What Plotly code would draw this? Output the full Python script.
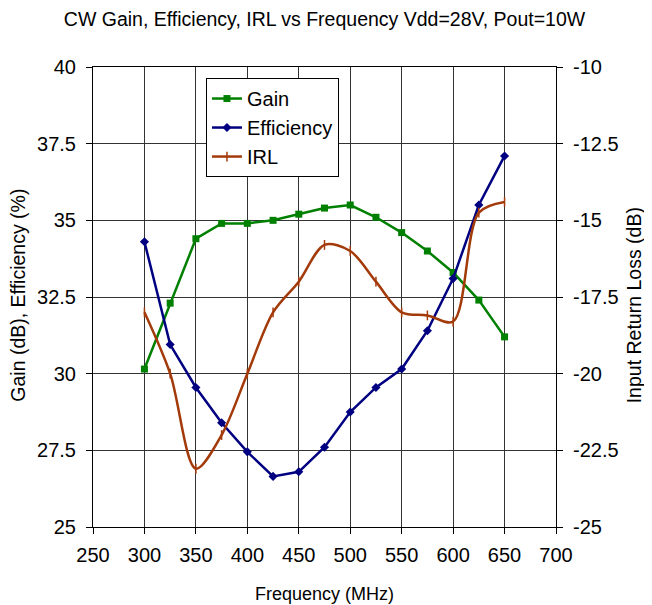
import plotly.graph_objects as go

freq = [300, 325, 350, 375, 400, 425, 450, 475, 500, 525, 550, 575, 600, 625, 650]
gain = [30.15, 32.3, 34.4, 34.9, 34.9, 35.0, 35.2, 35.4, 35.5, 35.1, 34.6, 34.0, 33.3, 32.4, 31.2]
efficiency = [34.3, 30.95, 29.55, 28.4, 27.45, 26.65, 26.8, 27.6, 28.75, 29.55, 30.15, 31.4, 33.1, 35.5, 37.1]
irl = [-18.0, -20.0, -23.1, -22.0, -20.0, -18.0, -17.0, -15.8, -16.0, -17.0, -18.0, -18.1, -18.3, -14.75, -14.4]

left_ticks = [25, 27.5, 30, 32.5, 35, 37.5, 40]
right_ticks = [-25, -22.5, -20, -17.5, -15, -12.5, -10]
right_labels = ["-25", "-22.5", "-20", "-17.5", "-15", "-12.5", "-10"]
x_ticks = [250, 300, 350, 400, 450, 500, 550, 600, 650, 700]

FONT = "Liberation Sans, Arial, sans-serif"
GRID = "#333333"

fig = go.Figure()
fig.add_trace(go.Scatter(x=freq, y=gain, name="Gain", mode="lines+markers",
                         line=dict(color="#008000", width=2.5),
                         marker=dict(symbol="square", size=7, color="#008000")))
fig.add_trace(go.Scatter(x=freq, y=efficiency, name="Efficiency", mode="lines+markers",
                         line=dict(color="#000080", width=2.5),
                         marker=dict(symbol="diamond", size=7, color="#000080")))
fig.add_trace(go.Scatter(x=freq, y=irl, name="IRL", mode="lines+markers", yaxis="y2",
                         line=dict(color="#A33A0A", width=2.5, shape="spline", smoothing=0.9),
                         marker=dict(symbol="line-ns-open", size=7, color="#A33A0A",
                                     line=dict(color="#A33A0A", width=1.5))))

# Page has an 8px body margin; figure is sized so it fits the 652x605 window.
fig.update_layout(
    width=644, height=597,
    margin=dict(l=85, r=96, t=59, b=78),
    paper_bgcolor="white", plot_bgcolor="white",
    font=dict(family=FONT, size=20, color="black"),
    title=dict(text="CW Gain, Efficiency, IRL vs Frequency Vdd=28V, Pout=10W",
               x=0.5, xref="paper", xanchor="center", y=0.981, yanchor="middle",
               font=dict(size=19.5, family=FONT)),
    showlegend=True,
    legend=dict(x=0.244, y=0.976, xanchor="left", yanchor="top",
                bgcolor="white", bordercolor="black", borderwidth=1,
                font=dict(size=20, family=FONT), tracegroupgap=0,
                itemwidth=30),
    xaxis=dict(range=[250, 700], tickvals=x_ticks, showgrid=True, gridcolor=GRID, gridwidth=1,
               showline=True, linecolor="black", linewidth=1, mirror=True,
               ticks="outside", ticklen=6, tickcolor="black",
               zeroline=False, tickfont=dict(size=20), ticklabelstandoff=4),
    yaxis=dict(range=[25, 40], tickvals=left_ticks, showgrid=True, gridcolor=GRID, gridwidth=1,
               showline=True, linecolor="black", linewidth=1, mirror=True,
               ticks="outside", ticklen=6, tickcolor="black", zeroline=False,
               tickfont=dict(size=20), ticklabelstandoff=6),
    yaxis2=dict(range=[-25, -10], tickvals=right_ticks, ticktext=right_labels,
                overlaying="y", side="right", showgrid=False,
                showline=True, linecolor="black", linewidth=1,
                ticks="outside", ticklen=6, tickcolor="black", zeroline=False,
                tickfont=dict(size=20), ticklabelstandoff=6),
    annotations=[
        dict(text="Frequency (MHz)", xref="paper", yref="paper", x=0.5, y=-0.145,
             xanchor="center", yanchor="middle", showarrow=False, font=dict(size=18)),
        dict(text="Gain (dB), Efficiency (%)", xref="paper", yref="paper", x=-0.162, y=0.505,
             xanchor="center", yanchor="middle", textangle=-90, showarrow=False,
             font=dict(size=19.5)),
        dict(text="Input Return Loss (dB)", xref="paper", yref="paper", x=1.168, y=0.4815,
             xanchor="center", yanchor="middle", textangle=-90, showarrow=False,
             font=dict(size=19.5)),
    ],
)

fig.write_html("out.html")
